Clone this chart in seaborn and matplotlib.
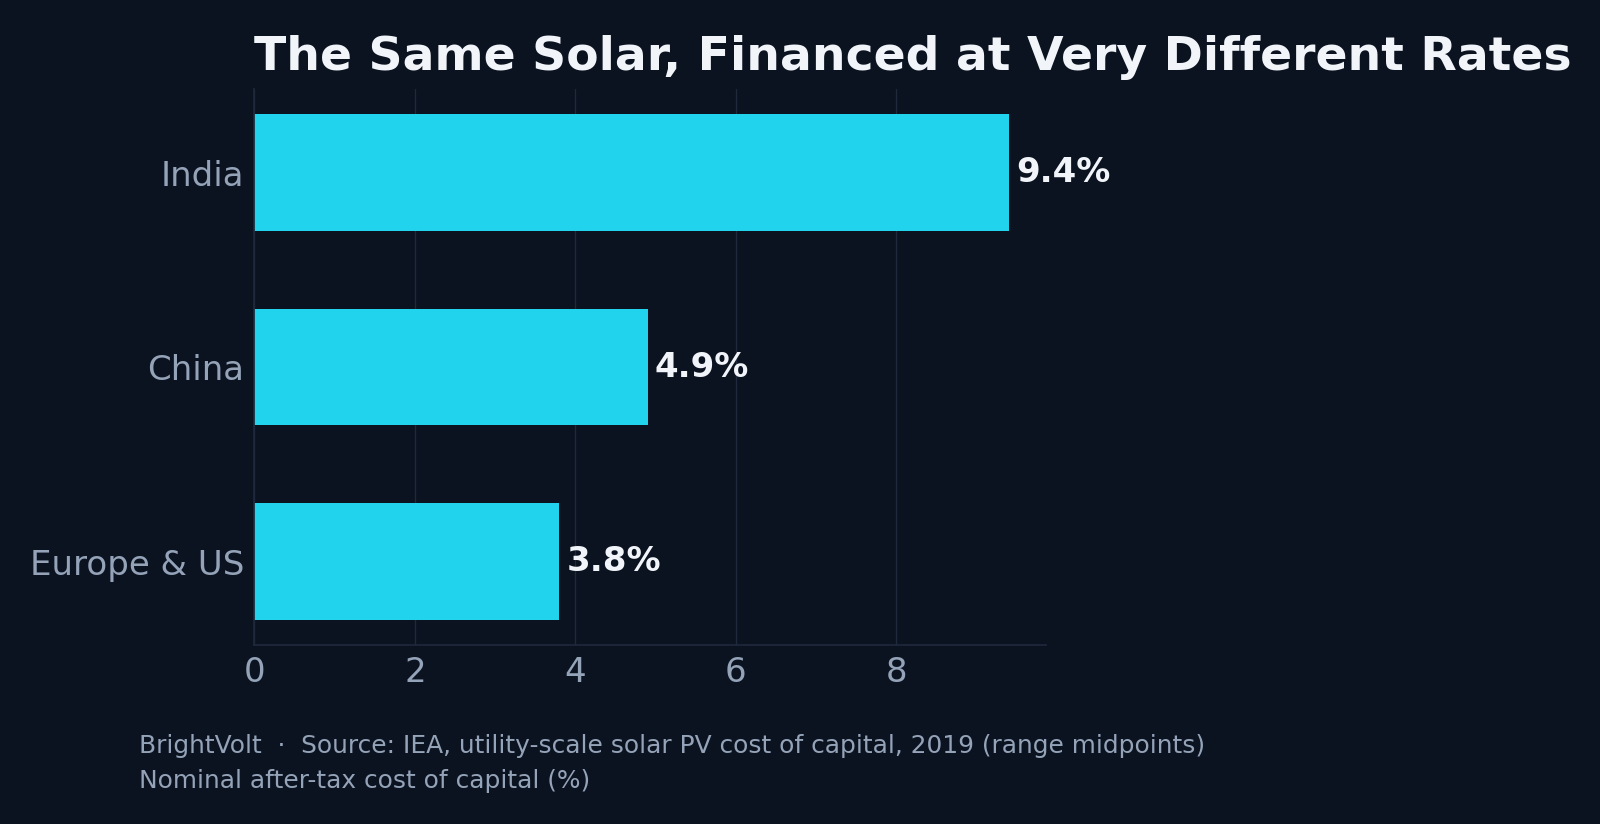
import matplotlib
matplotlib.use("Agg")
import matplotlib.pyplot as plt
import seaborn as sns
import pandas as pd

categories = ["India", "China", "Europe & US"]
values = [9.4, 4.9, 3.8]
labels = ["9.4%", "4.9%", "3.8%"]

bg = "#0b1220"
sns.set_theme(style="dark")
plt.rcParams['font.family'] = ['DejaVu Sans']

fig = plt.figure(figsize=(16, 8.24), dpi=100, facecolor=bg)
ax = fig.add_axes([0.159, 0.217, 0.495, 0.675], facecolor=bg)
df = pd.DataFrame({"region": categories, "rate": values})
sns.barplot(data=df, y="region", x="rate", color="#22d3ee", saturation=1, width=0.6,
            edgecolor="none", linewidth=0, ax=ax)
for i, (v, t) in enumerate(zip(values, labels)):
    ax.text(v + 0.09, i, t, va="center", ha="left", color="#f1f5f9", fontsize=24.5, fontweight="bold")
ax.set_xlim(0, 9.87)
ax.set_ylim(2.43, -0.43)
ax.set_xticks([0, 2, 4, 6, 8])
ax.grid(axis="x", color="#1e293b", linewidth=1)
ax.grid(axis="y", visible=False)
ax.set_axisbelow(True)
for s in ["top", "right"]:
    ax.spines[s].set_visible(False)
for s in ["left", "bottom"]:
    ax.spines[s].set_color("#1e293b")
ax.tick_params(axis="both", colors="#94a3b8", labelsize=24.5, length=4, color="#334155")
ax.tick_params(axis="x", length=0, pad=8)
ax.set_xlabel("")
ax.set_ylabel("")
ax.set_title("The Same Solar, Financed at Very Different Rates", loc="left",
             color="#f1f5f9", fontsize=34, fontweight="bold", pad=14)
fig.text(0.087, 0.095, "BrightVolt  ·  Source: IEA, utility-scale solar PV cost of capital, 2019 (range midpoints)",
         color="#94a3b8", fontsize=17.9, va="center")
fig.text(0.087, 0.052, "Nominal after-tax cost of capital (%)", color="#94a3b8", fontsize=17.9, va="center")
fig.savefig("out.png", dpi=100, facecolor=bg)
